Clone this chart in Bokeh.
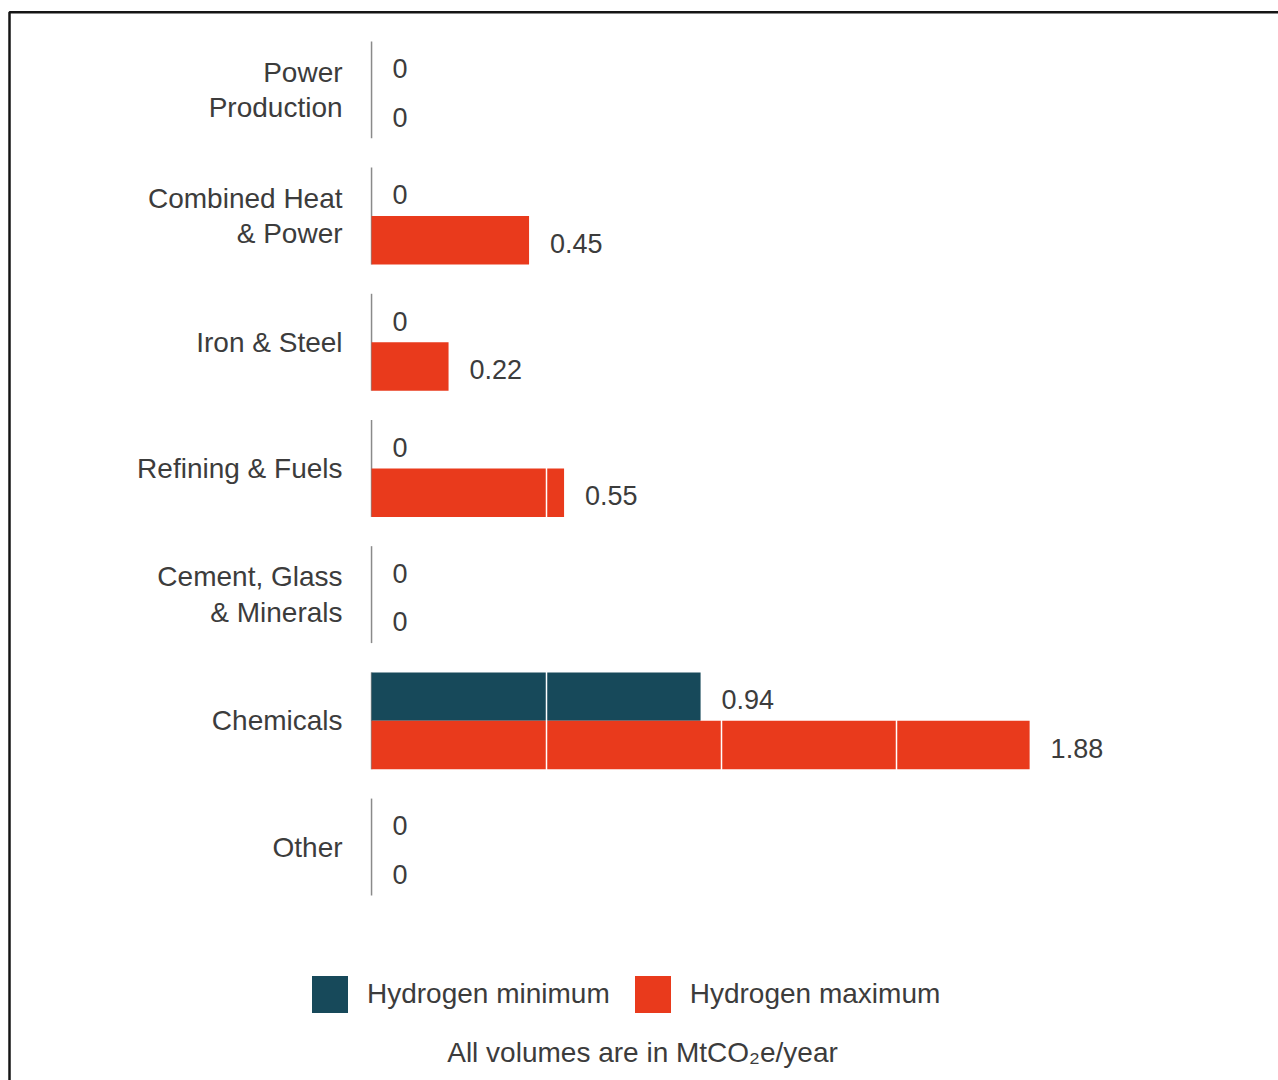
from bokeh.plotting import figure
from bokeh.models import (ColumnDataSource, Range1d, Grid, SingleIntervalTicker,
                          Legend, LegendItem, Label, BoxAnnotation)
from bokeh.core.properties import value
from bokeh.embed import file_html
from bokeh.resources import INLINE

# Sectors, top to bottom
categories = ["Power\nProduction", "Combined Heat\n& Power", "Iron & Steel",
              "Refining & Fuels", "Cement, Glass\n& Minerals", "Chemicals", "Other"]
# Abatement volumes (MtCO2e/year)
h2_min = [0, 0, 0, 0, 0, 0.94, 0]
h2_max = [0, 0.45, 0.22, 0.55, 0, 1.88, 0]
series_names = ["Hydrogen minimum", "Hydrogen maximum"]
note = "All volumes are in MtCO\u2082e/year"

W, H = 1278, 1080
FONT = "Liberation Sans"
TEXT = "#3c3c3c"
MIN_C = "#17495a"
MAX_C = "#e93a1c"
BAR_H = 0.384  # height of one bar in category units

pos = list(range(len(categories)))
src = ColumnDataSource(dict(
    y=pos,
    cat=categories,
    lo=h2_min,
    hi=h2_max,
    y_lo=[i - BAR_H / 2 for i in pos],
    y_hi=[i + BAR_H / 2 for i in pos],
    top=[i - BAR_H for i in pos],
    bottom=[i + BAR_H for i in pos],
    lo_txt=[f"{v:g}" for v in h2_min],
    hi_txt=[f"{v:g}" for v in h2_max],
))

p = figure(width=W, height=H, output_backend="svg", toolbar_location=None,
           x_axis_type=None, y_axis_type=None,
           x_range=Range1d(-1.06, 2.591), y_range=Range1d(7.85, -0.708),
           min_border=0, outline_line_color=None,
           background_fill_color="white", border_fill_color="white")

# zero line of each sector group
p.segment(x0=0, y0="top", x1=0, y1="bottom", source=src,
          line_color="#8a8a8a", line_width=1.5)

r_min = p.hbar(y="y_lo", left=0, right="lo", height=BAR_H, source=src,
               fill_color=MIN_C, line_color=None)
r_max = p.hbar(y="y_hi", left=0, right="hi", height=BAR_H, source=src,
               fill_color=MAX_C, line_color=None)

# white gridlines across the bars (0.5, 1.0, 1.5)
p.add_layout(Grid(dimension=0, ticker=SingleIntervalTicker(interval=0.5),
                  bounds=(0.25, 1.75), grid_line_color="white",
                  grid_line_width=1.5, level="annotation"))

txt = dict(source=src, text_font=value(FONT), text_color=TEXT,
           text_baseline="middle", level="overlay")
p.text(x="lo", y="y_lo", text="lo_txt", x_offset=21, y_offset=3,
       text_font_size="27px", **txt)
p.text(x="hi", y="y_hi", text="hi_txt", x_offset=21, y_offset=3,
       text_font_size="27px", **txt)
p.text(x=0, y="y", text="cat", x_offset=-29, text_align="right",
       text_font_size="28px", text_line_height=1.15, **txt)

legend = Legend(items=[LegendItem(label=series_names[0], renderers=[r_min]),
                       LegendItem(label=series_names[1], renderers=[r_max])],
                orientation="horizontal", location=(307, 63),
                glyph_width=45, glyph_height=46, label_height=46,
                label_standoff=15, spacing=20, padding=0, margin=0,
                border_line_color=None, background_fill_color="white",
                background_fill_alpha=1.0, label_text_font=FONT,
                label_text_font_size="28px", label_text_color=TEXT,
                level="overlay")
p.add_layout(legend)

p.add_layout(Label(x=642, y=28, x_units="screen", y_units="screen", text=note,
                   text_align="center", text_baseline="middle",
                   text_font=FONT, text_font_size="28px", text_color=TEXT,
                   background_fill_color="white", level="overlay"))

# frame line along the top and left edges
p.add_layout(BoxAnnotation(left=9, right=1300, top=11.7, bottom=1100,
                           left_units="canvas", right_units="canvas",
                           top_units="canvas", bottom_units="canvas",
                           fill_color=None, fill_alpha=0,
                           line_color="#151515", line_alpha=1.0,
                           line_width=2.5, level="overlay"))

open("out.html", "w").write(file_html(p, INLINE))
